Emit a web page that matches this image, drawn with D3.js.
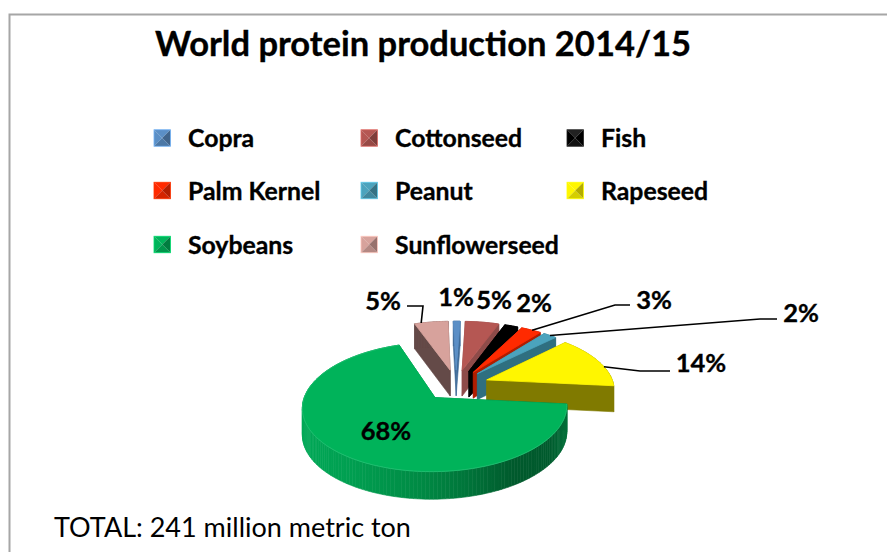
<!DOCTYPE html>
<html><head><meta charset="utf-8">
<script src="https://cdnjs.cloudflare.com/ajax/libs/d3/7.8.5/d3.min.js"></script>
<style>html,body{margin:0;background:#fff}svg{display:block}text{font-family:Lato,"Open Sans",sans-serif;fill:#000}text.b{stroke:#000;stroke-width:.35px}</style>
</head><body><svg id="c" width="887" height="552"></svg>
<script>
const categories=["Copra","Cottonseed","Fish","Palm Kernel","Peanut","Rapeseed","Soybeans","Sunflowerseed"];
const shares=[1,5,2,3,2,14,68,5];
const topColors=["#5b8fc6","#b55753","#000000","#ff2a00","#4ba3bd","#fff600","#00b35a","#d7a29c"];
const wallColors=["#3f6b99","#8e4b49","#000000","#b01d00","#2f6f80","#807a00","#007a3c","#644a48"];
const legendColumns=[154,361,567], legendRows=[138,190.5,244.5];
// label anchors: centre x, baseline y, optional leader elbow [x1,x2,y]
const labelPos=[[456,306],[494,309],[534,312],[654,309],[801,322],[701,372],[386,440],[383,310]];
const labelOrder=[0,1,2,3,4,5,6,7];
const leaders=[null,null,null,[630,615,305],[777,760,319],[670,640,371],null,[407,423,306]];
const leaderAnchor=[null,null,null,0.55,0.5,0.62,null,0.2];

const svg=d3.select("#c");
const defs=svg.append("defs");
// frame: the picture is cropped, so only the left and top edges show
svg.append("path").attr("d",d3.line()([[9.5,552],[9.5,14.5],[887,14.5]])).attr("fill","none").attr("stroke","#a6a6a6").attr("stroke-width",2);
svg.append("text").attr("class","b").attr("x",155).attr("y",56).attr("font-size",34.5).attr("font-weight",700).text("World protein production 2014/15");
svg.append("text").attr("x",54).attr("y",537).attr("font-size",27).text("TOTAL: 241 million metric ton");

// legend
const lighten=(c,k)=>d3.color(c).brighter(k).formatHex(), darken=(c,k)=>d3.color(c).darker(k).formatHex();
categories.forEach((name,i)=>{
  const x=legendColumns[i%3], y=legendRows[Math.floor(i/3)], s=16.5, h=s/2;
  const g=svg.append("g").attr("transform",`translate(${x},${y-h})`);
  const base=i===2?"#000000":topColors[i];
  const tri=(pts,fill)=>g.append("path").attr("d",d3.line()(pts)+"Z").attr("fill",fill);
  tri([[0,0],[s,0],[h,h]],i===2?"#222":base);
  tri([[0,0],[0,s],[h,h]],base);
  tri([[s,0],[s,s],[h,h]],i===2?"#000":darken(base,1));
  tri([[0,s],[s,s],[h,h]],i===2?"#111":darken(base,.5));
  g.append("rect").attr("width",s).attr("height",s).attr("fill","none").attr("stroke",i===2?"#222":lighten(base,.6)).attr("stroke-width",.8);
  svg.append("text").attr("class","b").attr("x",x+34).attr("y",y+9).attr("font-size",24.8).attr("font-weight",700).text(name);
});

// pie
const deg=Math.PI/180;
const arcs=d3.pie().sort(null).value(d=>d).startAngle(-1.5*deg).endAngle(358.5*deg)(shares);
const R=127,E=33,CX=456,CY=385,K=.47,D=900,DEPTH=26;
function project(a,rad,mid,z=0){
  const u=Math.sin(a)*rad+E*Math.sin(mid), v=-Math.cos(a)*rad-E*Math.cos(mid), s=D/(D-v);
  return [CX+u*s,CY+K*v*s+z*(1+(s-1)*.3)];
}
function outline(d,z){
  const mid=(d.startAngle+d.endAngle)/2;
  const n=Math.max(2,Math.ceil((d.endAngle-d.startAngle)/(1.5*deg)));
  const ang=d3.scaleLinear().domain([0,n]).range([d.startAngle,d.endAngle]);
  return [project(0,0,mid,z),...d3.range(n+1).map(i=>project(ang(i),R,mid,z))];
}
const soyGrad=defs.append("linearGradient").attr("id","soy").attr("gradientUnits","userSpaceOnUse").attr("x1",300).attr("x2",568).attr("y1",0).attr("y2",0);
[[0,"#00a856"],[.2,"#009e50"],[.45,"#008a44"],[.62,"#00753a"],[.8,"#00592c"],[.93,"#005a2d"],[1,"#006f38"]].forEach(([o,c])=>soyGrad.append("stop").attr("offset",o).attr("stop-color",c));
const order=[7,0,1,2,3,4,5,6];
const line=d3.line();
order.forEach(i=>{
  const d=arcs[i], g=svg.append("g");
  const a=outline(d,0), b=outline(d,DEPTH);
  const wall=i===6?"url(#soy)":wallColors[i];
  a.forEach((p,j)=>{
    const q=(j+1)%a.length;
    g.append("path").attr("d",line([p,a[q],b[q],b[j]])+"Z").attr("fill",wall).attr("stroke",wall).attr("stroke-width",.6);
  });
  g.append("path").attr("d",line(a)+"Z").attr("fill",topColors[i]).attr("stroke",topColors[i]).attr("stroke-width",.8);
  if(i===6){ g.append("path").attr("d",line(a.slice(1))).attr("fill","none").attr("stroke","#2fc47c").attr("stroke-width",1).attr("opacity",.6);}
});

// leaders
leaders.forEach((l,i)=>{
  if(!l) return;
  const d=arcs[i], mid=(d.startAngle+d.endAngle)/2;
  const a=d.startAngle+(d.endAngle-d.startAngle)*leaderAnchor[i];
  const p=project(a,R,mid);
  svg.append("path").attr("d",line([[l[0],l[2]],[l[1],l[2]],p])).attr("fill","none").attr("stroke","#000").attr("stroke-width",1.6);
});
// labels
labelOrder.forEach(i=>{
  svg.append("text").attr("class","b").attr("x",labelPos[i][0]).attr("y",labelPos[i][1]).attr("text-anchor","middle").attr("font-size",25.5).attr("font-weight",700).text(shares[i]+"%");
});
</script></body></html>
